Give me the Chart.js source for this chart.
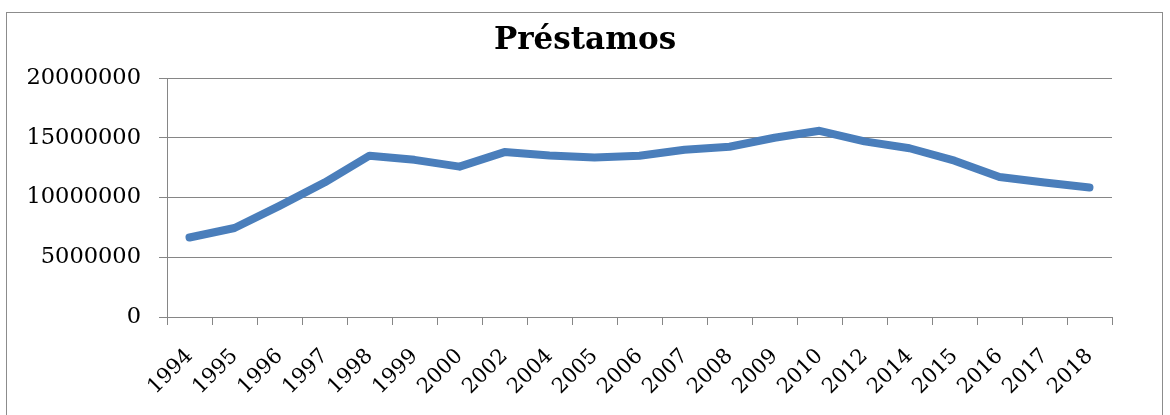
<!DOCTYPE html>
<html>
<head>
<meta charset="utf-8">
<script src="https://cdn.jsdelivr.net/npm/chart.js@4/dist/chart.umd.min.js"></script>
<style>
  html, body { margin: 0; padding: 0; background: #fff; }
  #wrap { position: relative; width: 1170px; height: 415px; overflow: hidden; }
  #frame { position: absolute; left: 6px; top: 12px; width: 1157px; height: 420px; border: 1px solid #8c8c8c; box-sizing: border-box; }
  #c { position: absolute; left: 0; top: 0; }
</style>
</head>
<body>
<div id="wrap">
  <div id="frame"></div>
  <canvas id="c" width="1170" height="415"></canvas>
</div>
<script>
const categories = ["1994","1995","1996","1997","1998","1999","2000","2002","2004","2005","2006","2007","2008","2009","2010","2012","2014","2015","2016","2017","2018"];
const prestamos = [6650000, 7450000, 9300000, 11250000, 13500000, 13150000, 12580000, 13800000, 13520000, 13350000, 13500000, 14000000, 14250000, 15000000, 15580000, 14700000, 14120000, 13080000, 11720000, 11250000, 10830000];
const yTicks = [0, 5000000, 10000000, 15000000, 20000000];

const serif = "'DejaVu Serif', serif";

new Chart(document.getElementById('c'), {
  type: 'line',
  data: {
    labels: categories,
    datasets: [{
      label: 'Préstamos',
      data: prestamos,
      borderColor: '#4a7ebb',
      backgroundColor: '#4a7ebb',
      borderWidth: 8,
      borderCapStyle: 'round',
      borderJoinStyle: 'round',
      pointRadius: 0,
      tension: 0,
      fill: false,
      yAxisID: 'y'
    }]
  },
  options: {
    responsive: false,
    animation: false,
    layout: { padding: 0 },
    plugins: {
      legend: { display: false },
      tooltip: { enabled: false },
      title: {
        display: true,
        text: 'Préstamos',
        color: '#000',
        font: { family: serif, size: 31, weight: 'bold', lineHeight: 1.2 },
        padding: { top: 22, bottom: 18.8 }
      }
    },
    scales: {
      x: {
        type: 'category',
        offset: true,
        grid: {
          display: true,
          offset: true,
          drawOnChartArea: false,
          drawTicks: true,
          tickLength: 8,
          color: '#868686',
          lineWidth: 1
        },
        border: { display: true, color: '#868686', width: 1 },
        ticks: {
          autoSkip: false,
          maxRotation: 45,
          minRotation: 45,
          padding: 19,
          color: '#000',
          font: { family: serif, size: 21 }
        },
        afterFit: (s) => { s.height = 98; }
      },
      y: {
        position: 'left',
        min: 0,
        max: 20000000,
        afterBuildTicks: (s) => { s.ticks = yTicks.map(v => ({ value: v })); },
        grid: {
          color: '#868686',
          lineWidth: 1,
          tickLength: 8,
          drawTicks: true
        },
        border: { display: true, color: '#868686', width: 1 },
        ticks: {
          padding: 18,
          color: '#000',
          font: { family: serif, size: 22.5 },
          callback: (v) => String(v)
        },
        afterFit: (s) => { s.width = 167; }
      },
      yRight: {
        position: 'right',
        display: true,
        min: 0,
        max: 1,
        grid: { display: false, drawOnChartArea: false, drawTicks: false },
        border: { display: false },
        ticks: { display: false },
        afterFit: (s) => { s.width = 58; }
      }
    }
  }
});
</script>
</body>
</html>
